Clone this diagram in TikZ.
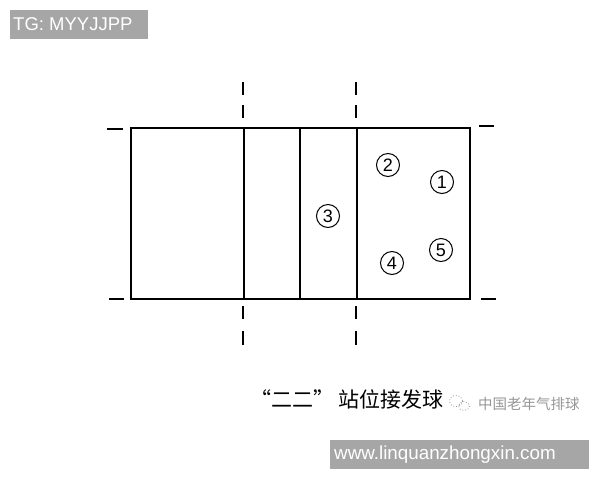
\documentclass[tikz,border=0pt]{standalone}
\usepackage{fontspec}
\setmainfont{Liberation Sans}
\newfontfamily\cjk{Noto Sans CJK SC}
\usetikzlibrary{positioning}
\definecolor{tagGray}{RGB}{166,166,166}
\definecolor{wmGray}{RGB}{150,150,150}

\begin{document}
\begin{tikzpicture}[x=1pt,y=-1pt,
    court/.style={line width=2.8pt},
    tick/.style={line width=2.8pt},
    player/.style={circle, draw, line width=1pt, minimum size=23pt, inner sep=0pt, font=\fontsize{18}{18}\selectfont},
    tag/.style={fill=tagGray, text=white, inner sep=0pt}
]
\useasboundingbox (0,0) rectangle (600,480);

% court
\draw[court] (131,128) rectangle (470,299);
\draw[court] (244,128) -- (244,299);
\draw[court] (300,128) -- (300,299);
\draw[court] (357,128) -- (357,299);

% dashed marks
\foreach \x in {243,356} {
  \draw[tick] (\x,82) -- (\x,95);
  \draw[tick] (\x,105) -- (\x,118);
  \draw[tick] (\x,306) -- (\x,319);
  \draw[tick] (\x,331) -- (\x,345);
}
\draw[tick] (107,129) -- (123,129);
\draw[tick] (109,299) -- (124,299);
\draw[tick] (479,126) -- (494,126);
\draw[tick] (481,299) -- (496,299);

% players
\node[player] (p1) at (442,182) {1};
\node[player] (p2) at (388,165) {2};
\node[player] (p3) at (328,216) {3};
\node[player] (p4) at (392,263) {4};
\node[player] (p5) at (441,250) {5};

% caption
\node[anchor=west, inner sep=0pt, font=\cjk\fontsize{21}{21}\selectfont] (cap) at (250,399) {“二二” 站位接发球};

% watermark
\draw[wmGray, line width=0.8pt, dotted] (456,401) ellipse (6.5 and 5.5);
\draw[wmGray, line width=0.8pt, dotted] (464,406) ellipse (5.5 and 4.5);
\node[anchor=west, inner sep=0pt, text=wmGray, font=\cjk\fontsize{14.5}{14.5}\selectfont] (wm) at (478,404) {中国老年气排球};

% tags
\node[tag, minimum width=138pt, minimum height=29pt] (tg) at (79,24.5) {};
\node[anchor=west, inner sep=0pt, text=white, font=\fontsize{18.5}{18.5}\selectfont] at (13,24.5) {TG: MYYJJPP};
\node[tag, minimum width=259pt, minimum height=29pt] (web) at (459.5,454.5) {};
\node[anchor=west, inner sep=0pt, text=white, font=\fontsize{18.8}{18.8}\selectfont] at (334,454.5) {www.linquanzhongxin.com};
\end{tikzpicture}
\end{document}
